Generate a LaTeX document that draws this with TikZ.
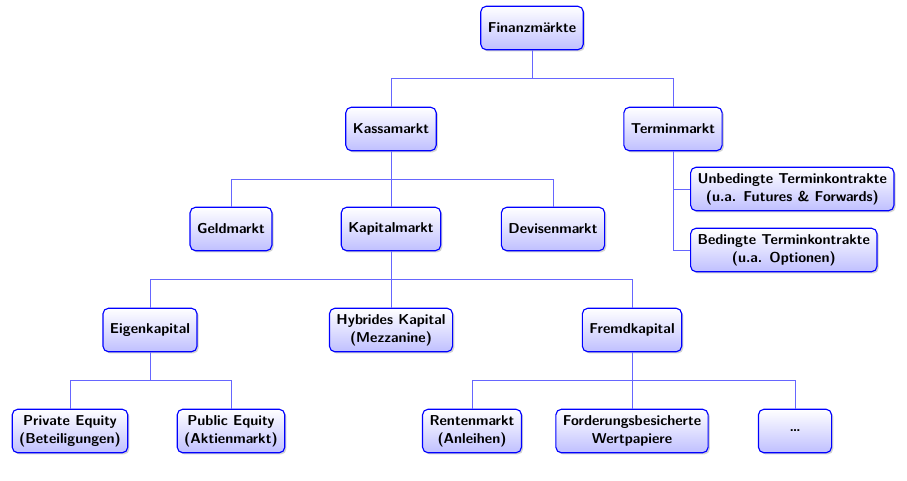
\documentclass[tikz,border=0pt]{standalone}
\usepackage{tikz}
\usetikzlibrary{shadows}

\begin{document}
\begin{tikzpicture}[x=0.025cm,y=-0.025cm,
    box/.style={draw=blue,thick,rounded corners=4pt,top color=white,bottom color=blue!25,
      drop shadow={opacity=0.35,shadow xshift=1.2pt,shadow yshift=-1.2pt},
      font=\sffamily\bfseries\fontsize{10.2}{12.6}\selectfont,align=center,
      minimum height=31pt,inner xsep=5pt},
    link/.style={blue!60,semithick}]
    \useasboundingbox (0,0) rectangle (907,480);
    \node[box] (fin) at (532,28) {Finanzm\"arkte};
    \node[box] (kas) at (391,129) {Kassamarkt};
    \node[box] (ter) at (673,129) {Terminmarkt};
    \node[box] (geld) at (231,229) {Geldmarkt};
    \node[box] (kap) at (391,229) {Kapitalmarkt};
    \node[box] (dev) at (553,229) {Devisenmarkt};
    \node[box,anchor=west] (unb) at (690,189) {Unbedingte Terminkontrakte\\(u.a. Futures \& Forwards)};
    \node[box,anchor=west] (bed) at (690,250) {Bedingte Terminkontrakte\\(u.a. Optionen)};
    \node[box] (eig) at (150,330) {Eigenkapital};
    \node[box] (hyb) at (391,330) {Hybrides Kapital\\(Mezzanine)};
    \node[box] (fre) at (632,330) {Fremdkapital};
    \node[box] (priv) at (70,431) {Private Equity\\(Beteiligungen)};
    \node[box] (pub) at (231,431) {Public Equity\\(Aktienmarkt)};
    \node[box] (rent) at (472,431) {Rentenmarkt\\(Anleihen)};
    \node[box] (ford) at (632,431) {Forderungsbesicherte\\Wertpapiere};
    \node[box,minimum width=52pt] (etc) at (795,431) {\dots};
    % Verbindungen
    \draw[link] (fin.south) -- ++(0,28) -| (kas.north);
    \draw[link] (fin.south) -- ++(0,28) -| (ter.north);
    \draw[link] (kas.south) -- ++(0,28) -| (geld.north);
    \draw[link] (kas.south) -- (kap.north);
    \draw[link] (kas.south) -- ++(0,28) -| (dev.north);
    \draw[link] (ter.south) |- (unb.west);
    \draw[link] (ter.south) |- (bed.west);
    \draw[link] (kap.south) -- ++(0,28) -| (eig.north);
    \draw[link] (kap.south) -- (hyb.north);
    \draw[link] (kap.south) -- ++(0,28) -| (fre.north);
    \draw[link] (eig.south) -- ++(0,28) -| (priv.north);
    \draw[link] (eig.south) -- ++(0,28) -| (pub.north);
    \draw[link] (fre.south) -- ++(0,28) -| (rent.north);
    \draw[link] (fre.south) -- (ford.north);
    \draw[link] (fre.south) -- ++(0,28) -| (etc.north);
\end{tikzpicture}
\end{document}
